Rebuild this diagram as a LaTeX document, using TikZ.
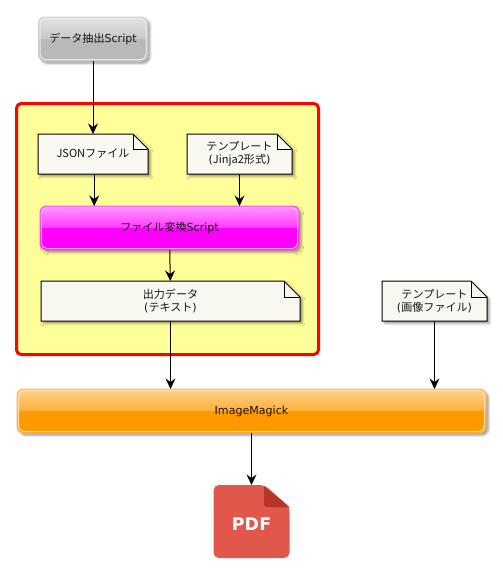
\documentclass[tikz,border=0pt]{standalone}
\usepackage{fontspec}
\usepackage{xcolor}
\setmainfont{DejaVu Sans}
\newfontfamily\jpfont{Noto Sans CJK JP}
\newfontfamily\iconfont[LetterSpace=1.5]{DejaVu Sans}
\usetikzlibrary{positioning, arrows.meta, backgrounds, calc, shadows.blur}
\definecolor{cNOTE}{HTML}{F8F7F0}
\definecolor{cGROUP}{HTML}{FFFF99}
\definecolor{cPDF}{HTML}{E2574C}
\definecolor{cFOLD}{HTML}{B53629}
\definecolor{cGRAY}{HTML}{B9B9B9}
\definecolor{cMAGENTA}{HTML}{FF00FF}
\definecolor{cORANGE}{HTML}{FF9900}
\tikzset{
  plainbox/.style={
    inner sep=0pt,
    outer sep=0pt,
    align=center,
    text=black!92,
    font=\fontsize{8.3pt}{9.8pt}\selectfont
  },
  notebox/.style={
    plainbox,
    minimum width=#1*0.75pt,
    minimum height=40*0.75pt
  },
  glossbox/.style={
    plainbox,
    minimum width=#1*0.75pt,
    minimum height=44*0.75pt
  },
  softshadow/.style={
    blur shadow={shadow xshift=1.8pt, shadow yshift=-1.8pt, shadow blur radius=1.8pt, shadow opacity=40}
  },
  chain/.style={
    -{Stealth[length=8pt,width=7.5pt,inset=2.8pt]},
    line width=0.75pt,
    draw=black
  }
}
\newcommand{\notepaper}[2]{%
  \path[fill=cNOTE, draw=black, line width=0.75pt, softshadow]
    (#1.north west) -- ($(#1.north east)+(-#2,0)$) -- ($(#1.north east)+(0,#2)$)
    -- (#1.south east) -- (#1.south west) -- cycle;
  \draw[line width=0.75pt] ($(#1.north east)+(-#2,0)$) -- ($(#1.north east)+(-#2,#2)$) -- ($(#1.north east)+(0,#2)$);
}
\newcommand{\glosspaper}[3]{%
  \path[fill=#2, softshadow, rounded corners=5pt] (#1.north west) rectangle (#1.south east);
  \begin{scope}
    \clip[rounded corners=5pt] (#1.north west) rectangle (#1.south east);
    \shade[top color=#2!#3!white, bottom color=#2!78!white] (#1.north west) rectangle (#1.east);
    \fill[#2] (#1.west) rectangle (#1.south east);
  \end{scope}
  \draw[#2!70!white, line width=0.75pt, rounded corners=5pt] (#1.north west) rectangle (#1.south east);
  \draw[white!70!#2, line width=0.75pt, rounded corners=4pt]
    ($(#1.north west)+(1.5,1.5)$) rectangle ($(#1.south east)+(-1.5,-1.5)$);
}
\begin{document}
\begin{tikzpicture}[x=0.75pt, y=-0.75pt]
  \useasboundingbox (0,0) rectangle (503,583);

  \node[glossbox=109] (extract) at (93,39) {{\jpfont データ抽出}Script};
  \node[notebox=110, below=73*0.75pt of extract] (json) {{\jpfont JSONファイル}};
  \node[notebox=105, right=39*0.75pt of json] (tmpljinja) {{\jpfont テンプレート}\\({\jpfont Jinja2形式})};
  \node[glossbox=259, below=32*0.75pt of json, xshift=76.5*0.75pt] (convert) {{\jpfont ファイル変換}Script};
  \node[notebox=259, below=31*0.75pt of convert, xshift=1*0.75pt] (output) {{\jpfont 出力データ}\\({\jpfont テキスト})};
  \node[notebox=105, right=82*0.75pt of output] (tmplimage) {{\jpfont テンプレート}\\({\jpfont 画像ファイル})};
  \node[glossbox=469, below=68*0.75pt of output, xshift=81*0.75pt] (magick) {ImageMagick};
  \node[plainbox, minimum width=76*0.75pt, minimum height=73*0.75pt, text=white,
        below=52*0.75pt of magick, font=\fontsize{13pt}{14pt}\iconfont\bfseries] (pdf) {\smash{\raisebox{-7pt}{PDF}}};

  \begin{scope}[on background layer]
    % frame round the conversion step
    \draw[draw=red, fill=cGROUP, line width=2.25pt, rounded corners=3.5pt] (16.5,103.5) rectangle (318.5,354.5);
    \glosspaper{extract}{cGRAY}{40}
    \foreach \n in {json, tmpljinja} {\notepaper{\n}{15}}
    \glosspaper{convert}{cMAGENTA}{40}
    \notepaper{output}{16}
    \notepaper{tmplimage}{16}
    \glosspaper{magick}{cORANGE}{45}
    % pdf icon
    \fill[cPDF, rounded corners=4pt] (pdf.north west) -- ++(51,0) -- (pdf.north east |- 0,507) -- (pdf.south east) -- (pdf.south west) -- cycle;
    \fill[cPDF] (262,486) -- (264,486) -- (289,507) -- (289,512) -- (262,512) -- cycle;
    \fill[cFOLD, rounded corners=2pt] (264,486) -- (264,507) -- (289,507) -- cycle;
    \fill[cFOLD] (264,486) -- (289,507) -- (272,507) -- (264,499) -- cycle;
  \end{scope}

  \draw[chain] (extract) -- (json);
  \draw[chain] ([xshift=0.9pt]json.south) -- ([xshift=0.9pt]json.south |- convert.north);
  \draw[chain] (tmpljinja.south) -- (tmpljinja.south |- convert.north);
  \draw[chain] (convert) -- (output);
  \draw[chain] (output.south) -- (output.south |- magick.north);
  \draw[chain] (tmplimage.south) -- (tmplimage.south |- magick.north);
  \draw[chain] (magick) -- (pdf);
\end{tikzpicture}
\end{document}
